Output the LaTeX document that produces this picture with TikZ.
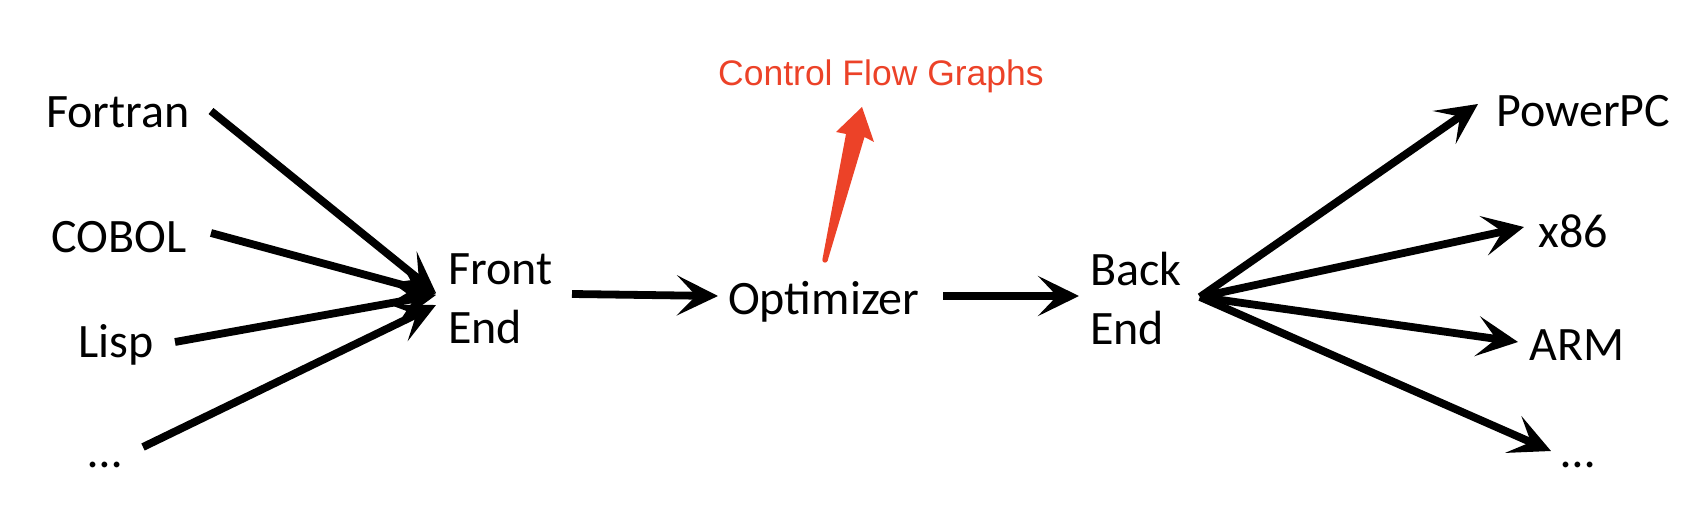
\documentclass[tikz,border=0pt]{standalone}
\usepackage{fontspec}
\setmainfont{Carlito}
\newfontfamily\redfont{Liberation Sans}
\usetikzlibrary{arrows.meta}
\definecolor{cfgred}{RGB}{236,66,40}
\tikzset{
  lbl/.style={inner sep=0pt, font=\fontsize{48}{59}\selectfont},
  twoline/.style={lbl, align=left},
  conn/.style={line width=7.8pt, -{Stealth[length=41pt,width=40pt,inset=19pt]}},
}
\begin{document}
\begin{tikzpicture}[x=1pt,y=-1pt]
\useasboundingbox (0,0) rectangle (1706,516);
% labels
\node[lbl, anchor=base west] (fortran) at (46,128) {Fortran};
\node[lbl, anchor=base west] (cobol) at (51,252) {COBOL};
\node[lbl, anchor=base west] (lisp) at (78,357) {Lisp};
\node[lbl, anchor=base west] (ldots) at (88,467) {…};
\node[twoline, anchor=west] (fe) at (448,299) {Front\\End};
\node[lbl, anchor=base west] (opt) at (728,314) {Optimizer};
\node[twoline, anchor=west] (be) at (1090,298) {Back\\End};
\node[lbl, anchor=base west] (ppc) at (1496,127) {PowerPC};
\node[lbl, anchor=base west] (x86) at (1538,247) {x86};
\node[lbl, anchor=base west] (arm) at (1529,360) {ARM};
\node[lbl, anchor=base west] (rdots) at (1561,467) {…};
\node[inner sep=0pt, anchor=base west, text=cfgred, font=\redfont\fontsize{35.5}{42}\selectfont] (cfg) at (718,86) {Control Flow Graphs};
% connector end points
\coordinate (fortran-out) at (211,111);
\coordinate (cobol-out) at (211,233);
\coordinate (lisp-out) at (175,342);
\coordinate (ldots-out) at (143,447);
\coordinate (fe-in1) at (436,293);
\coordinate (fe-in2) at (436,294);
\coordinate (fe-in3) at (436,295);
\coordinate (fe-in4) at (436,305);
\coordinate (fe-out) at (572,294);
\coordinate (opt-in) at (718,296);
\coordinate (opt-out) at (943,296);
\coordinate (be-in) at (1079,296);
\coordinate (be-out) at (1200,297);
\coordinate (ppc-in) at (1478,104);
\coordinate (x86-in) at (1524,227);
\coordinate (arm-in) at (1518,342);
\coordinate (rdots-in) at (1551,451);
% connectors
\draw[conn] (fortran-out) -- (fe-in1);
\draw[conn] (cobol-out) -- (fe-in2);
\draw[conn] (lisp-out) -- (fe-in3);
\draw[conn] (ldots-out) -- (fe-in4);
\draw[conn] (fe-out) -- (opt-in);
\draw[conn] (opt-out) -- (be-in);
\draw[conn] (be-out) -- (ppc-in);
\draw[conn] (be-out) -- (x86-in);
\draw[conn] (be-out) -- (arm-in);
\draw[conn] (be-out) -- (rdots-in);
% red tapered arrow towards the label
\coordinate (cfg-tail) at (825,260);
\coordinate (cfg-tip) at (862,107);
\fill[cfgred] (822.5,259) -- (846,134) -- (836,132) -- (cfg-tip) -- (874,142) -- (864.5,137) -- (827.5,261) -- cycle;
\fill[cfgred] (cfg-tail) circle (2.7);
\end{tikzpicture}
\end{document}
